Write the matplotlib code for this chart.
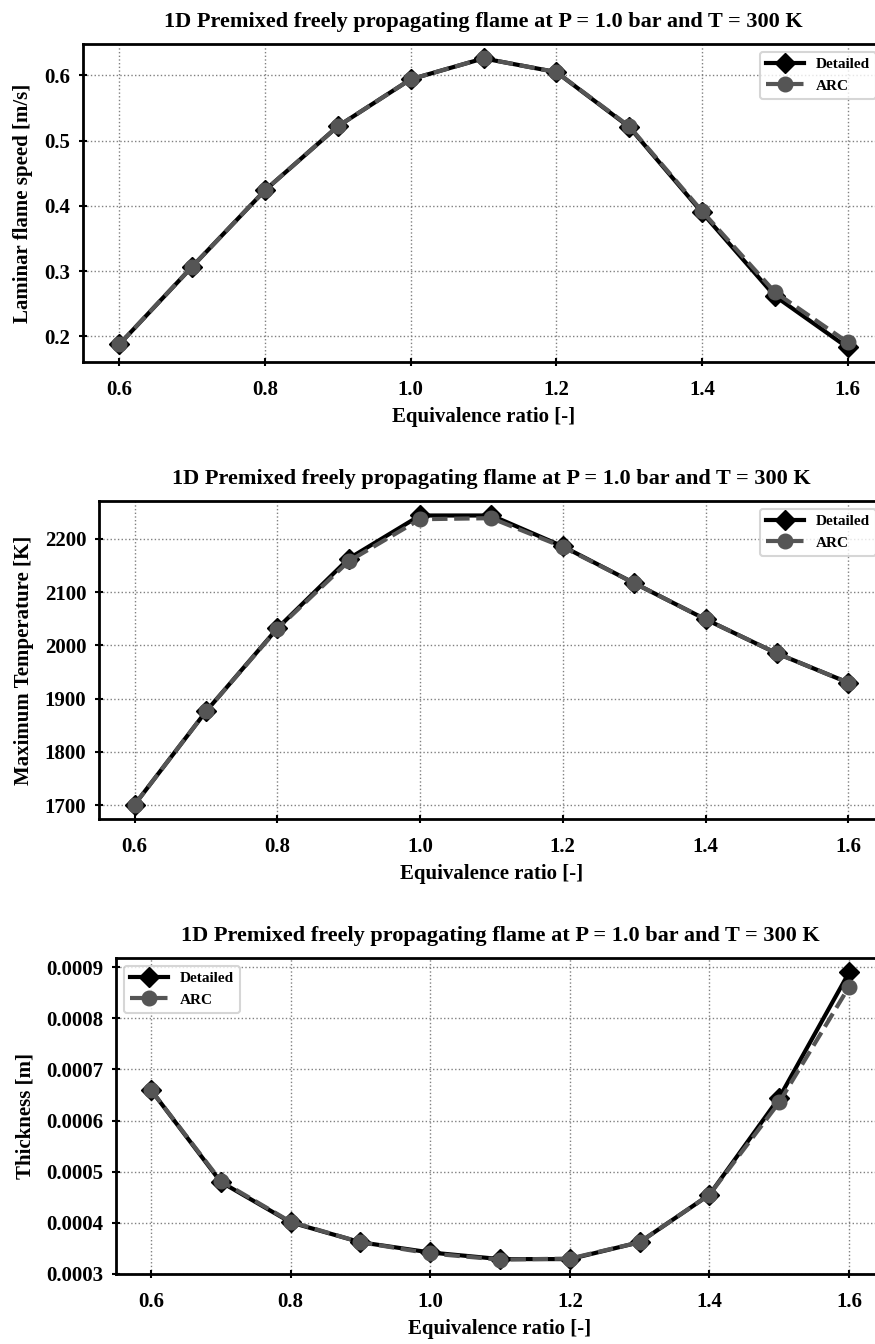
import matplotlib
matplotlib.use("Agg")
import matplotlib.pyplot as plt
from matplotlib.ticker import FormatStrFormatter

phi = [0.6, 0.7, 0.8, 0.9, 1.0, 1.1, 1.2, 1.3, 1.4, 1.5, 1.6]

sl_detailed = [0.188, 0.307, 0.424, 0.522, 0.594, 0.626, 0.605, 0.521, 0.390, 0.262, 0.183]
sl_arc = [0.188, 0.307, 0.424, 0.522, 0.594, 0.626, 0.605, 0.522, 0.392, 0.268, 0.191]

tmax_detailed = [1701, 1876, 2032, 2163, 2244, 2244, 2186, 2117, 2049, 1985, 1930]
tmax_arc = [1701, 1876, 2031, 2158, 2237, 2239, 2185, 2117, 2049, 1985, 1930]

thick_detailed = [0.000660, 0.000480, 0.000401, 0.000362, 0.000342, 0.000329,
                  0.000329, 0.000362, 0.000455, 0.000645, 0.000890]
thick_arc = [0.000660, 0.000482, 0.000402, 0.000362, 0.000340, 0.000328,
             0.000330, 0.000362, 0.000455, 0.000636, 0.000862]

title = "1D Premixed freely propagating flame at P = 1.0 bar and T = 300 K"
xlabel = "Equivalence ratio [-]"
ylabels = ["Laminar flame speed [m/s]", "Maximum Temperature [K]", "Thickness [m]"]

plt.rcParams['font.family'] = ['Liberation Serif', 'DejaVu Serif']
plt.rcParams['font.weight'] = 'bold'
plt.rcParams['axes.labelweight'] = 'bold'
plt.rcParams['axes.titleweight'] = 'bold'

fig = plt.figure(figsize=(8.75, 13.44), dpi=100)

# axes boxes in figure fraction, right edge runs past the figure like the original
boxes = [
    [0.0949, 0.7307, 0.9154, 0.2366],
    [0.1131, 0.3906, 0.8971, 0.2366],
    [0.1326, 0.0521, 0.8777, 0.2351],
]
data = [(sl_detailed, sl_arc), (tmax_detailed, tmax_arc), (thick_detailed, thick_arc)]
legend_loc = ['upper right', 'upper right', 'upper left']

for i, box in enumerate(boxes):
    ax = fig.add_axes(box)
    det, arc = data[i]
    ax.plot(phi, det, color='black', lw=3, marker='D', ms=10, label='Detailed')
    ax.plot(phi, arc, color='#555555', lw=3, ls='--', marker='o', ms=10.5, label='ARC')
    ax.set_title(title, fontsize=16, pad=12)
    ax.set_xlabel(xlabel, fontsize=15, labelpad=5)
    ax.set_ylabel(ylabels[i], fontsize=15, labelpad=8)
    ax.set_xticks([0.6, 0.8, 1.0, 1.2, 1.4, 1.6])
    ax.xaxis.set_major_formatter(FormatStrFormatter('%.1f'))
    if i == 2:
        ax.yaxis.set_major_formatter(FormatStrFormatter('%.4f'))
    ax.grid(True, ls=':', color='gray', lw=1)
    ax.tick_params(direction='inout', length=6, width=1.5, labelsize=15)
    ax.tick_params(axis='x', pad=10)
    ax.tick_params(axis='y', pad=6)
    for s in ax.spines.values():
        s.set_linewidth(2)
    leg = ax.legend(loc=legend_loc[i], fontsize=11, handlelength=2.5,
                    fancybox=True, framealpha=0.8)
    leg.get_frame().set_linewidth(1.5)

fig.savefig("out.png", dpi=100)
